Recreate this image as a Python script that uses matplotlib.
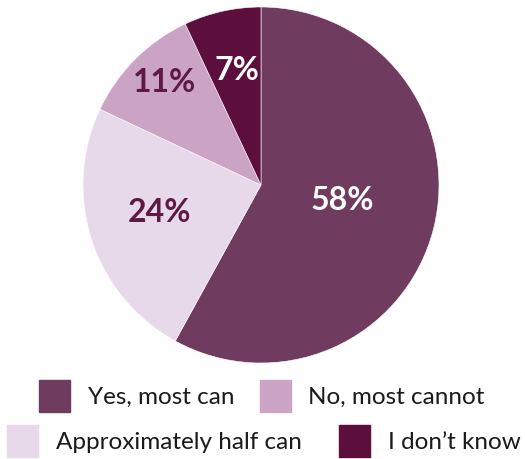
import matplotlib.pyplot as plt
from matplotlib.patches import Patch
import numpy as np

plt.rcParams['font.family'] = ['Lato', 'DejaVu Sans']

# survey answers, clockwise from the top
answers = ['Yes, most can', 'Approximately half can', 'No, most cannot', 'I don\u2019t know']
shares = [58, 24, 11, 7]
colors = ['#6f3c60', '#e8d9ea', '#cba4c5', '#5c0f3d']
label_colors = ['white', '#5c1a45', '#5c1a45', 'white']
label_radius = [0.47, 0.6, 0.77, 0.63]

fig = plt.figure(figsize=(5.25, 4.59), dpi=100)
ax = fig.add_axes([83 / 525, 96 / 459, 356 / 525, 356 / 459])

wedges, _ = ax.pie(shares, colors=colors, startangle=90, counterclock=False,
                   radius=1, wedgeprops=dict(edgecolor='white', linewidth=0.4))
ax.set_xlim(-1, 1)
ax.set_ylim(-1, 1)
ax.set_aspect('equal')

for w, val, c, r in zip(wedges, shares, label_colors, label_radius):
    mid = np.deg2rad((w.theta1 + w.theta2) / 2)
    ax.text(r * np.cos(mid), r * np.sin(mid) + 0.03, f'{val}%', ha='center', va='center',
            fontsize=23, fontweight='bold', color=c)

# legend in two centred rows
row1 = [Patch(color=colors[0], label=answers[0]), Patch(color=colors[2], label=answers[2])]
row2 = [Patch(color=colors[1], label=answers[1]), Patch(color=colors[3], label=answers[3])]
leg_style = dict(ncol=2, loc='center', frameon=False, fontsize=17.5, handlelength=1.27,
                 handleheight=1.7, handletextpad=0.72, borderpad=0, borderaxespad=0)
leg1 = fig.legend(handles=row1, bbox_to_anchor=(262 / 525, 1 - 396 / 459),
                  columnspacing=1.05, **leg_style)
leg2 = fig.legend(handles=row2, bbox_to_anchor=(264 / 525, 1 - 441 / 459),
                  columnspacing=1.55, **leg_style)
for t in leg1.get_texts() + leg2.get_texts():
    t.set_color('#1a1a1a')

fig.savefig('out.png', dpi=100)
